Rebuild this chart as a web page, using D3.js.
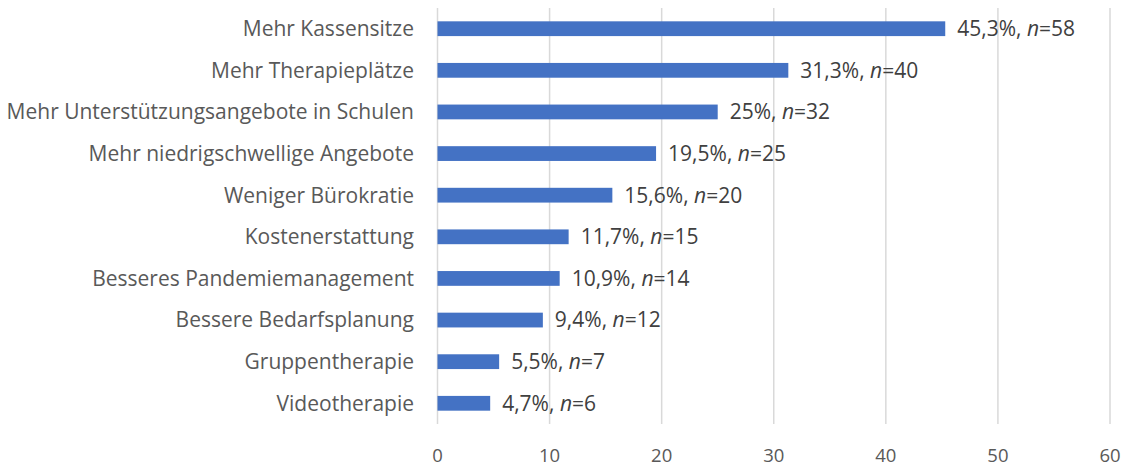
<!DOCTYPE html>
<html>
<head>
<meta charset="utf-8">
<script src="https://cdn.jsdelivr.net/npm/d3@7"></script>
<style>
  body { margin: 0; background: #fff; }
  text { font-family: "Open Sans", sans-serif; }
</style>
</head>
<body>
<svg id="chart"></svg>
<script>
// Data
const categories = [
  "Mehr Kassensitze",
  "Mehr Therapieplätze",
  "Mehr Unterstützungsangebote in Schulen",
  "Mehr niedrigschwellige Angebote",
  "Weniger Bürokratie",
  "Kostenerstattung",
  "Besseres Pandemiemanagement",
  "Bessere Bedarfsplanung",
  "Gruppentherapie",
  "Videotherapie"
];
const percents = [45.3, 31.3, 25, 19.5, 15.6, 11.7, 10.9, 9.4, 5.5, 4.7];
const pctLabels = ["45,3%", "31,3%", "25%", "19,5%", "15,6%", "11,7%", "10,9%", "9,4%", "5,5%", "4,7%"];
const counts = [58, 40, 32, 25, 20, 15, 14, 12, 7, 6];
const ticks = [0, 10, 20, 30, 40, 50, 60];

// Chart specs
const width = 1127, height = 469;
const margin = { top: 8, right: 17, bottom: 45, left: 437.5 };

const svg = d3.select("#chart").attr("width", width).attr("height", height);

const x = d3.scaleLinear().domain([0, 60]).range([margin.left, width - margin.right]);
const y = d3.scaleBand().domain(categories).range([margin.top, height - margin.bottom]).paddingInner(0.645).paddingOuter(0.32);

// gridlines
svg.append("g")
  .selectAll("line")
  .data(ticks)
  .join("line")
  .attr("x1", d => x(d)).attr("x2", d => x(d))
  .attr("y1", margin.top).attr("y2", height - margin.bottom)
  .attr("stroke", "#d9d9d9")
  .attr("stroke-width", 1.5);

// bars
svg.append("g")
  .selectAll("rect")
  .data(categories)
  .join("rect")
  .attr("x", x(0))
  .attr("y", d => y(d))
  .attr("width", (d, i) => x(percents[i]) - x(0))
  .attr("height", y.bandwidth())
  .attr("fill", "#4472c4");

// category labels
svg.append("g")
  .selectAll("text")
  .data(categories)
  .join("text")
  .attr("x", margin.left - 23.5)
  .attr("y", d => y(d) + y.bandwidth() / 2)
  .attr("dy", "0.35em")
  .attr("text-anchor", "end")
  .attr("fill", "#595959")
  .style("font-size", "21px")
  .text(d => d);

// value labels
const vl = svg.append("g")
  .selectAll("text")
  .data(categories)
  .join("text")
  .attr("x", (d, i) => x(percents[i]) + 12)
  .attr("y", d => y(d) + y.bandwidth() / 2)
  .attr("dy", "0.35em")
  .attr("fill", "#404040")
  .style("font-size", "21px");
vl.append("tspan").text((d, i) => pctLabels[i] + ", ");
vl.append("tspan").style("font-style", "italic").text("n");
vl.append("tspan").text((d, i) => "=" + counts[i]);

// x axis labels
svg.append("g")
  .selectAll("text")
  .data(ticks)
  .join("text")
  .attr("x", d => x(d))
  .attr("y", 456)
  .attr("dy", "0.35em")
  .attr("text-anchor", "middle")
  .attr("fill", "#595959")
  .style("font-size", "18.5px")
  .text(d => d);
</script>
</body>
</html>
